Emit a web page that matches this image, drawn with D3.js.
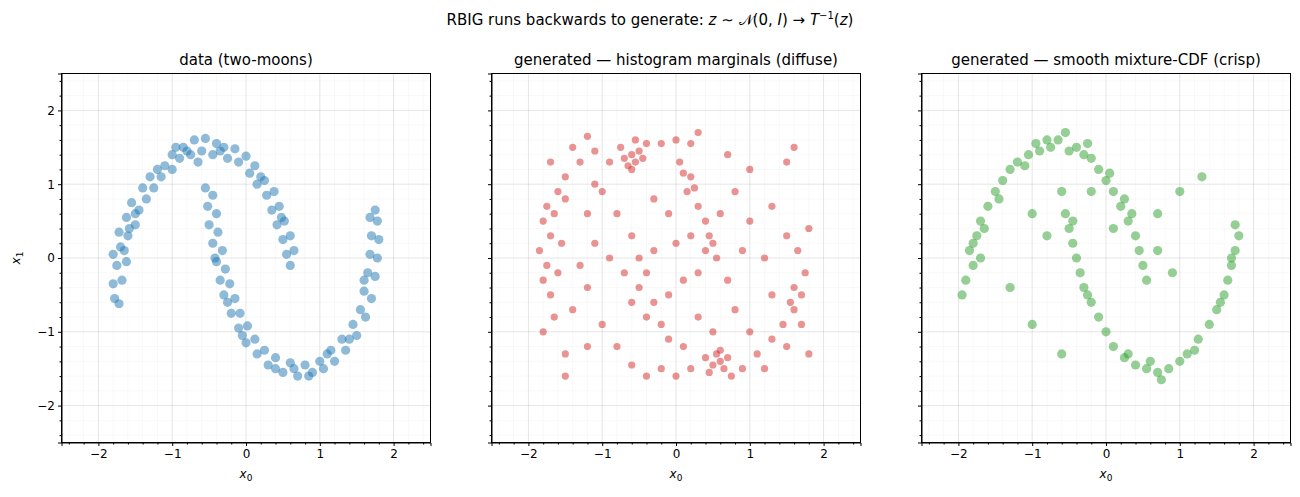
<!DOCTYPE html><html><head><meta charset="utf-8"><script src="https://cdn.jsdelivr.net/npm/d3@7"></script>
<style>body{margin:0;background:#fff}text{font-family:"DejaVu Sans",sans-serif}</style></head><body><svg id="c" width="1300" height="497"></svg><script>
const tickValues=[-2,-1,0,1,2];
const panelTitles=["data (two-moons)","generated — histogram marginals (diffuse)","generated — smooth mixture-CDF (crisp)"];
const panelColors=["#1f77b4","#d62728","#2ca02c"];
const dataPoints=[[-1.78,-0.55],[-1.72,-0.62],[-1.8,-0.35],[-1.68,-0.3],[-1.75,-0.1],[-1.62,-0.05],[-1.8,0.05],[-1.7,0.15],[-1.6,0.3],[-1.72,0.35],[-1.5,0.45],[-1.62,0.55],[-1.45,0.65],[-1.55,0.75],[-1.35,0.8],[-1.4,0.95],[-1.25,0.95],[-1.3,1.1],[-1.15,1.1],[-1.1,1.25],[-1.0,1.2],[-1.0,1.4],[-0.9,1.35],[-0.85,1.5],[-0.75,1.4],[-0.7,1.6],[-0.6,1.45],[-0.55,1.62],[-0.45,1.4],[-0.4,1.55],[-0.3,1.5],[-0.25,1.35],[-0.15,1.48],[-0.1,1.3],[0.0,1.38],[0.05,1.15],[0.12,1.25],[0.15,1.0],[0.25,1.05],[0.28,0.85],[0.38,0.9],[0.35,0.65],[0.45,0.7],[0.42,0.45],[0.52,0.5],[0.5,0.25],[0.6,0.3],[0.55,0.05],[0.65,0.1],[0.6,-0.1],[-0.95,1.5],[-0.65,1.3],[-1.5,0.6],[-1.65,0.1],[-1.2,1.2],[-0.8,1.45],[-0.35,1.45],[0.2,1.1],[0.48,0.55],[-1.58,0.4],
[-0.55,0.95],[-0.45,0.85],[-0.52,0.7],[-0.4,0.6],[-0.5,0.45],[-0.38,0.35],[-0.45,0.2],[-0.32,0.1],[-0.4,-0.05],[-0.28,-0.15],[-0.35,-0.3],[-0.22,-0.35],[-0.3,-0.5],[-0.15,-0.55],[-0.2,-0.75],[-0.08,-0.75],[-0.1,-0.95],[0.02,-0.92],[0.0,-1.15],[0.12,-1.1],[0.15,-1.3],[0.25,-1.25],[0.3,-1.45],[0.4,-1.35],[0.5,-1.55],[0.6,-1.42],[0.7,-1.6],[0.8,-1.45],[0.9,-1.55],[1.0,-1.4],[1.05,-1.5],[1.15,-1.25],[1.2,-1.4],[1.3,-1.1],[1.35,-1.25],[1.45,-0.9],[1.5,-1.05],[1.55,-0.7],[1.62,-0.8],[1.6,-0.45],[1.7,-0.55],[1.65,-0.2],[1.75,-0.25],[1.68,0.05],[1.78,0.0],[1.7,0.3],[1.8,0.25],[1.68,0.55],[1.78,0.5],[1.75,0.65],[0.65,-1.5],[1.1,-1.3],[-0.25,-0.6],[1.6,-0.3],[0.4,-1.5],[0.85,-1.6],[-0.05,-1.05],[1.4,-1.1],[-0.42,0.0]];
const histPoints=[[-0.7,1.35],[-0.6,1.4],[-0.55,1.3],[-0.5,1.45],[-0.65,1.25],[-0.45,1.35],[-0.75,1.5],[-0.6,1.2],[-0.4,1.55],[-0.55,1.6],[-0.9,1.3],[-1.1,1.45],[-1.3,1.3],[-1.5,1.1],[-1.6,0.9],[-1.75,0.7],[-1.8,0.5],[-1.7,0.3],[-1.85,0.1],[-1.75,-0.1],[-1.8,-0.3],[-1.7,-0.5],[-1.65,-0.8],[-1.8,-1.0],[-1.5,-1.3],[-1.7,1.3],[-1.65,0.6],[-1.55,0.2],[-1.6,-0.2],[-1.5,0.8],[-1.4,1.5],[-1.2,1.65],[-0.2,1.55],[0.0,1.6],[0.2,1.55],[0.3,1.7],[0.05,1.3],[0.2,1.1],[0.15,0.9],[0.3,0.7],[0.4,0.5],[0.5,0.2],[0.55,0.0],[0.45,0.3],[0.25,0.95],[0.1,1.15],
[0.6,-1.4],[0.55,-1.3],[0.65,-1.5],[0.5,-1.45],[0.7,-1.35],[0.6,-1.25],[0.45,-1.55],[0.75,-1.6],[0.4,-1.35],[0.2,-1.5],[0.0,-1.6],[-0.2,-1.5],[-0.4,-1.6],[-0.6,-1.45],[0.9,-1.5],[1.1,-1.3],[1.3,-1.1],[1.45,-0.9],[1.6,-0.7],[1.7,-0.5],[1.6,-0.4],[1.75,-0.2],[1.55,-0.6],[1.65,0.1],[1.8,0.4],[1.5,0.3],[1.7,-0.9],[1.5,-1.2],[1.2,-1.5],[1.0,-1.0],[1.3,0.7],[1.5,1.3],[1.0,0.5],[0.9,0.1],[0.8,0.9],
[-0.6,0.3],[-0.5,0.0],[-0.4,-0.2],[-0.5,-0.4],[-0.3,-0.6],[-0.4,-0.8],[-0.2,-0.9],[-0.1,-1.1],[0.1,-1.2],[-0.6,-0.6],[-0.7,-0.2],[-0.3,0.1],[0.0,0.2],[0.2,0.3],[0.4,0.1],[0.1,-0.3],[-0.1,-0.5],[0.3,-0.2],[-0.8,0.6],[-1.0,0.9],[-1.1,0.2],[-1.2,-0.4],[-1.0,-0.9],[-0.8,-1.2],[-1.3,-0.1],[-1.1,1.0],[-0.9,0.0],[0.6,0.6],[0.7,-0.3],[0.8,-0.7],[0.3,-0.8],[0.5,-1.0],[1.2,0.0],[1.3,-0.5],[-1.4,-0.7],[-1.2,0.6],[-0.3,0.8],[-0.1,0.6],[0.7,1.4],[1.0,1.2],[-1.5,-1.6],[-1.2,-1.2],[1.8,-1.3],[1.6,1.5]];
const smoothPoints=[[-1.9,-0.3],[-1.8,-0.1],[-1.85,0.1],[-1.75,0.3],[-1.7,0.5],[-1.6,0.7],[-1.5,0.9],[-1.4,1.05],[-1.3,1.2],[-1.2,1.3],[-1.05,1.4],[-0.9,1.45],[-0.75,1.5],[-0.65,1.6],[-0.5,1.45],[-0.4,1.5],[-0.3,1.4],[-0.2,1.35],[-0.1,1.2],[0.0,1.05],[0.1,0.9],[0.2,0.7],[0.3,0.5],[0.4,0.3],[0.45,0.1],[0.5,-0.1],[0.55,-0.3],[-1.65,0.4],[-1.45,0.8],[-1.1,1.25],[-0.8,1.6],[-0.55,1.7],[-0.25,1.55],[0.05,1.15],[0.25,0.8],[0.35,0.6],[-1.8,0.2],[-1.95,-0.5],[-1.7,0.0],[-0.95,1.55],
[-0.6,0.9],[-0.55,0.6],[-0.5,0.4],[-0.45,0.2],[-0.4,0.0],[-0.35,-0.2],[-0.3,-0.4],[-0.2,-0.6],[-0.1,-0.8],[0.0,-1.0],[0.1,-1.2],[0.25,-1.35],[0.4,-1.45],[0.55,-1.5],[0.7,-1.55],[0.85,-1.5],[1.0,-1.4],[1.1,-1.3],[1.25,-1.1],[1.4,-0.9],[1.5,-0.7],[1.6,-0.5],[1.65,-0.3],[1.7,-0.1],[1.75,0.1],[1.8,0.3],[1.75,0.45],[0.6,-1.4],[0.75,-1.65],[0.3,-1.3],[1.2,-1.25],[1.55,-0.6],[-0.25,-0.5],[-0.45,0.5],[1.7,0.0],
[-1.0,0.6],[-0.8,0.3],[-0.2,0.9],[0.1,0.4],[0.7,0.1],[1.0,0.9],[1.3,1.1],[-1.3,-0.4],[-1.0,-0.9],[-0.6,-1.3],[0.9,-0.2],[0.7,0.6]];
const panels=[dataPoints,histPoints,smoothPoints];
const svg=d3.select("#c");
svg.append("text").attr("x",650).attr("y",25).attr("text-anchor","middle").attr("font-size",15)
 .html('RBIG runs backwards to generate: <tspan font-style="italic">z</tspan> ∼ 𝒩(0, <tspan font-style="italic">I</tspan>) → <tspan font-style="italic">T</tspan><tspan dy="-6" font-size="10">−1</tspan><tspan dy="6">(</tspan><tspan font-style="italic">z</tspan>)');
const lefts=[61.5,491.5,921.5],W=369,T0=73.5,H=369;
const minor=d3.range(-2.4,2.41,0.2).map(v=>+v.toFixed(1));
panels.forEach((pts,i)=>{
 const g=svg.append("g").attr("transform",`translate(${lefts[i]},${T0})`);
 const x=d3.scaleLinear().domain([-2.5,2.5]).range([0,W]);
 const y=d3.scaleLinear().domain([-2.5,2.5]).range([H,0]);
 minor.forEach(v=>{
  g.append("line").attr("x1",x(v)).attr("x2",x(v)).attr("y1",0).attr("y2",H).attr("stroke","#000").attr("stroke-opacity",0.05).attr("stroke-width",0.6);
  g.append("line").attr("y1",y(v)).attr("y2",y(v)).attr("x1",0).attr("x2",W).attr("stroke","#000").attr("stroke-opacity",0.05).attr("stroke-width",0.6);});
 tickValues.forEach(v=>{
  g.append("line").attr("x1",x(v)).attr("x2",x(v)).attr("y1",0).attr("y2",H).attr("stroke","#000").attr("stroke-opacity",0.1).attr("stroke-width",0.8);
  g.append("line").attr("y1",y(v)).attr("y2",y(v)).attr("x1",0).attr("x2",W).attr("stroke","#000").attr("stroke-opacity",0.1).attr("stroke-width",0.8);});
 const r=i===1?3.6:4.6;
 g.selectAll("circle").data(pts).join("circle").attr("cx",d=>x(d[0])).attr("cy",d=>y(d[1])).attr("r",r)
  .attr("fill",panelColors[i]).attr("fill-opacity",0.5);
 const fmt=d=>d<0?"−"+(-d):""+d;
 g.append("g").attr("transform",`translate(0,${H})`).call(d3.axisBottom(x).tickValues(tickValues).tickFormat(fmt).tickSizeOuter(0).tickSize(3.5));
 g.append("g").attr("transform",`translate(0,${H})`).call(d3.axisBottom(x).tickValues(minor.filter(v=>!tickValues.includes(v))).tickFormat("").tickSize(2).tickSizeOuter(0)).select(".domain").remove();
 g.append("g").call(d3.axisLeft(y).tickValues(tickValues).tickFormat(i===0?fmt:"").tickSizeOuter(0).tickSize(3.5));
 g.append("g").call(d3.axisLeft(y).tickValues(minor.filter(v=>!tickValues.includes(v))).tickFormat("").tickSize(2).tickSizeOuter(0)).select(".domain").remove();
 g.selectAll(".tick text").attr("font-size",12).attr("font-family","DejaVu Sans").attr("fill","#000");
 g.append("rect").attr("width",W).attr("height",H).attr("fill","none").attr("stroke","#000").attr("stroke-width",1);
 g.append("text").attr("x",W/2).attr("y",-9).attr("text-anchor","middle").attr("font-size",15).text(panelTitles[i]);
 g.append("text").attr("x",W/2).attr("y",H+35).attr("text-anchor","middle").attr("font-size",12).html('<tspan font-style="italic">x</tspan><tspan dy="3" font-size="9">0</tspan>');
 if(i===0) g.append("text").attr("transform",`translate(-42,${H/2}) rotate(-90)`).attr("text-anchor","middle").attr("font-size",12).html('<tspan font-style="italic">x</tspan><tspan dy="3" font-size="9">1</tspan>');
});
</script></body></html>
